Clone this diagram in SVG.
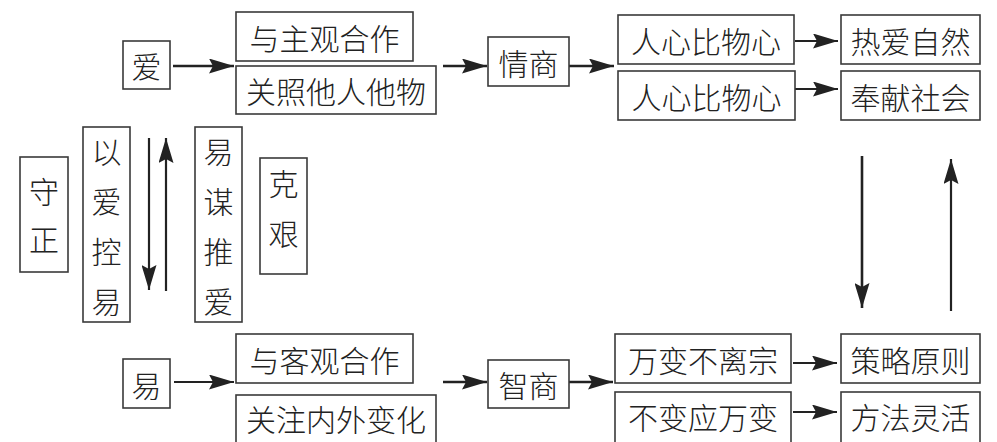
<svg xmlns="http://www.w3.org/2000/svg" width="997" height="442" viewBox="0 0 997 442">
<style>
.b{fill:#fff;stroke:#3a3a3a;stroke-width:1.6}
.t{font-family:"Noto Sans CJK SC","Noto Sans CJK JP",sans-serif;font-size:30px;fill:#222;text-anchor:middle;dominant-baseline:central;font-weight:300}
.c{stroke:#222;stroke-width:2.6;fill:none;marker-end:url(#ah)}
.s{stroke:#222;stroke-width:2.2;fill:none;marker-end:url(#ah)}
</style>
<defs>
<marker id="ah" viewBox="0 0 25 15" refX="25" refY="7.5" markerWidth="25" markerHeight="15" markerUnits="userSpaceOnUse" orient="auto">
<path d="M0,0 L25,7.5 L0,15 L4,7.5 z" fill="#222"/>
</marker>
</defs>
<rect width="997" height="442" fill="#fff"/>
<g id="connectors">
<line class="c" x1="173" y1="66" x2="234" y2="66"/>
<line class="c" x1="443" y1="66" x2="487" y2="66"/>
<line class="c" x1="569" y1="66" x2="614" y2="66"/>
<line class="s" x1="795" y1="41" x2="838" y2="41"/>
<line class="s" x1="795" y1="89" x2="838" y2="89"/>
<line class="c" x1="862" y1="156" x2="862" y2="308"/>
<line class="s" x1="951" y1="311" x2="951" y2="159"/>
<line class="s" x1="149" y1="138" x2="149" y2="290"/>
<line class="s" x1="166" y1="291" x2="166" y2="138"/>
<line class="s" x1="174" y1="382" x2="234" y2="382"/>
<line class="c" x1="443" y1="382" x2="487" y2="382"/>
<line class="c" x1="569" y1="382" x2="613" y2="382"/>
<line class="s" x1="793" y1="363" x2="837" y2="363"/>
<line class="s" x1="793" y1="412" x2="837" y2="412"/>
</g>
<g id="n-ai"><rect class="b" x="123" y="41" width="47" height="48"/><text class="t" x="146.5" y="65">爱</text></g>
<g id="n-yuzhuguan"><rect class="b" x="236" y="12" width="177" height="49"/><text class="t" x="324.5" y="36.5">与主观合作</text></g>
<g id="n-guanzhao"><rect class="b" x="236" y="66" width="200" height="48"/><text class="t" x="336" y="90">关照他人他物</text></g>
<g id="n-qingshang"><rect class="b" x="488" y="37" width="81" height="49"/><text class="t" x="528.5" y="61.5">情商</text></g>
<g id="n-renxin1"><rect class="b" x="618" y="15" width="176" height="49"/><text class="t" x="706" y="39.5">人心比物心</text></g>
<g id="n-renxin2"><rect class="b" x="618" y="71" width="177" height="49"/><text class="t" x="706.5" y="95.5">人心比物心</text></g>
<g id="n-reai"><rect class="b" x="841" y="15" width="139" height="49"/><text class="t" x="910.5" y="39.5">热爱自然</text></g>
<g id="n-fengxian"><rect class="b" x="841" y="71" width="139" height="49"/><text class="t" x="910.5" y="95.5">奉献社会</text></g>
<g id="n-shouzheng"><rect class="b" x="20" y="157" width="48" height="115"/><text class="t" x="44" y="190">守</text><text class="t" x="44" y="238">正</text></g>
<g id="n-yiaikongyi"><rect class="b" x="83" y="127" width="47" height="195"/><text class="t" x="106.5" y="150">以</text><text class="t" x="106.5" y="200">爱</text><text class="t" x="106.5" y="250">控</text><text class="t" x="106.5" y="300">易</text></g>
<g id="n-yimoutuiai"><rect class="b" x="195" y="127" width="47" height="195"/><text class="t" x="218.5" y="150">易</text><text class="t" x="218.5" y="200">谋</text><text class="t" x="218.5" y="250">推</text><text class="t" x="218.5" y="300">爱</text></g>
<g id="n-kejian"><rect class="b" x="260" y="158" width="47" height="116"/><text class="t" x="283.5" y="182">克</text><text class="t" x="283.5" y="232">艰</text></g>
<g id="n-yi"><rect class="b" x="123" y="359" width="47" height="49"/><text class="t" x="146.5" y="383.5">易</text></g>
<g id="n-yukeguan"><rect class="b" x="236" y="334" width="177" height="49"/><text class="t" x="324.5" y="358.5">与客观合作</text></g>
<g id="n-guanzhu"><rect class="b" x="236" y="395" width="200" height="52"/><text class="t" x="336" y="418">关注内外变化</text></g>
<g id="n-zhishang"><rect class="b" x="488" y="360" width="81" height="48"/><text class="t" x="528.5" y="384">智商</text></g>
<g id="n-wanbian"><rect class="b" x="615" y="334" width="176" height="49"/><text class="t" x="703" y="358.5">万变不离宗</text></g>
<g id="n-bubian"><rect class="b" x="615" y="392" width="176" height="55"/><text class="t" x="703" y="416">不变应万变</text></g>
<g id="n-celue"><rect class="b" x="841" y="334" width="139" height="49"/><text class="t" x="910.5" y="358.5">策略原则</text></g>
<g id="n-fangfa"><rect class="b" x="841" y="392" width="139" height="55"/><text class="t" x="910.5" y="416">方法灵活</text></g>
</svg>
